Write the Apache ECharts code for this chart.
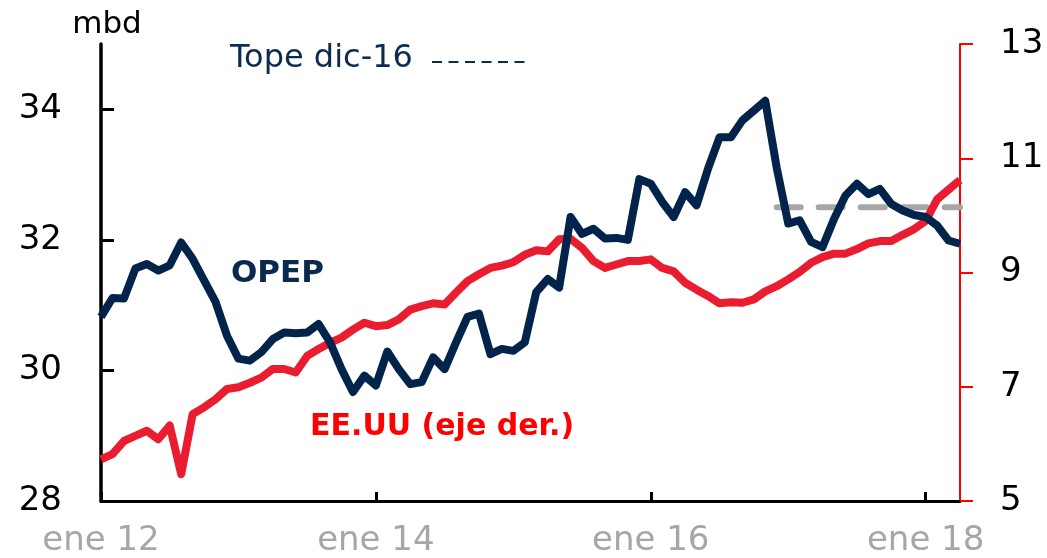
<!DOCTYPE html>
<html>
<head>
<meta charset="utf-8">
<script src="https://cdn.jsdelivr.net/npm/echarts@6/dist/echarts.min.js"></script>
<style>
html,body{margin:0;padding:0;background:#ffffff;}
#chart{width:1047px;height:558px;}
</style>
</head>
<body>
<div id="chart"></div>
<script>
// ---- data ----
const monthNames = ['ene','feb','mar','abr','may','jun','jul','ago','sep','oct','nov','dic'];
const yearLabels = ['12','13','14','15','16','17','18'];
const lastMonthIndex2018 = 3; // abr 18
const categories = [];
yearLabels.forEach(function (y, yi) {
  monthNames.forEach(function (m, mi) {
    if (yi < yearLabels.length - 1 || mi <= lastMonthIndex2018) categories.push(m + ' ' + y);
  });
});

// OPEP production, mbd (left axis)
const opep = [
  30.82,31.11,31.10,31.56,31.63,31.53,31.61,31.96,31.71,31.38,31.05,30.53,
  30.18,30.15,30.28,30.48,30.58,30.57,30.58,30.71,30.43,30.02,29.67,29.92,
  29.77,30.29,30.02,29.79,29.82,30.20,30.02,30.43,30.82,30.87,30.25,30.33,
  30.30,30.43,31.20,31.40,31.27,32.35,32.09,32.17,32.02,32.03,32.00,32.93,
  32.86,32.58,32.35,32.73,32.53,33.09,33.57,33.57,33.83,33.98,34.13,33.10,
  32.25,32.30,31.97,31.89,32.32,32.68,32.86,32.70,32.78,32.55,32.45,32.38,
  32.35,32.22,31.99,31.94
];

// EE.UU production, mbd (right axis)
const eeuu = [
  5.73,5.82,6.05,6.14,6.23,6.08,6.32,5.47,6.52,6.64,6.78,6.96,
  6.99,7.07,7.16,7.31,7.31,7.25,7.54,7.66,7.77,7.86,8.00,8.12,
  8.06,8.08,8.18,8.35,8.41,8.46,8.44,8.65,8.85,8.97,9.08,9.12,
  9.18,9.31,9.39,9.37,9.58,9.59,9.43,9.20,9.08,9.14,9.20,9.20,
  9.23,9.08,9.02,8.82,8.70,8.59,8.46,8.48,8.47,8.53,8.67,8.76,
  8.88,9.01,9.17,9.27,9.33,9.33,9.41,9.51,9.55,9.55,9.66,9.76,
  9.90,10.28,10.45,10.62
];

// Cap agreed in Dec-16
const topeLevel = 32.5;
const topeStart = 'dic 16';
const topeEnd = 'abr 18';

const leftTicks = [28, 30, 32, 34];
const leftMin = 28, leftMax = 35;
const rightMin = 5, rightMax = 13, rightInterval = 2;
const xLabelStep = 23; // label every 24 months (ene of even years)

// ---- chart ----
const NAVY = '#03244a';
const RED = '#e91d2f';
const FONT = '"DejaVu Sans", "Liberation Sans", Arial, sans-serif';

const chart = echarts.init(document.getElementById('chart'), null, {renderer: 'canvas'});
chart.setOption({
  animation: false,
  backgroundColor: '#ffffff',
  grid: {left: 101, right: 87, top: 44, bottom: 56, containLabel: false},
  xAxis: {
    type: 'category',
    data: categories,
    boundaryGap: false,
    axisLine: {lineStyle: {color: '#000000', width: 3}},
    axisTick: {
      inside: true, length: 9, interval: xLabelStep,
      lineStyle: {color: '#000000', width: 3}
    },
    axisLabel: {
      interval: xLabelStep,
      color: '#a6a6a6', fontSize: 34, fontFamily: FONT, margin: 23
    },
    splitLine: {show: false}
  },
  yAxis: [
    {
      type: 'value', position: 'left',
      min: leftMin, max: leftMax, interval: 2,
      axisLine: {show: true, lineStyle: {color: '#000000', width: 3.5}},
      axisTick: {show: true, inside: true, length: 13, customValues: leftTicks,
                 lineStyle: {color: '#000000', width: 3}},
      axisLabel: {customValues: leftTicks, color: '#000000', fontSize: 34,
                  fontFamily: FONT, margin: 39},
      splitLine: {show: false}
    },
    {
      type: 'value', position: 'right',
      min: rightMin, max: rightMax, interval: rightInterval,
      axisLine: {show: true, lineStyle: {color: '#ff0000', width: 2}},
      axisTick: {show: true, inside: false, length: 13,
                 lineStyle: {color: '#ff0000', width: 2}},
      axisLabel: {color: '#000000', fontSize: 34, fontFamily: FONT, margin: 40},
      splitLine: {show: false}
    }
  ],
  series: [
    {
      name: 'Tope dic-16', type: 'line', yAxisIndex: 0, z: 1,
      data: [[topeStart, topeLevel], [topeEnd, topeLevel]],
      symbol: 'none',
      lineStyle: {color: '#a6a6a6', width: 6, type: [24, 18], cap: 'round'}
    },
    {
      name: 'EE.UU (eje der.)', type: 'line', yAxisIndex: 1, z: 2,
      data: eeuu, symbol: 'none',
      lineStyle: {color: RED, width: 8, join: 'round'}
    },
    {
      name: 'OPEP', type: 'line', yAxisIndex: 0, z: 3,
      data: opep, symbol: 'none',
      lineStyle: {color: NAVY, width: 8, join: 'round'}
    }
  ],
  graphic: [
    {type: 'text', x: 107, y: 25,
     style: {text: 'mbd', fill: '#000000', font: '31px ' + FONT, align: 'center', verticalAlign: 'middle'}},
    {type: 'text', x: 230, y: 59,
     style: {text: 'Tope dic-16', fill: '#0d2a4f', font: '32px ' + FONT, align: 'left', verticalAlign: 'middle'}},
    {type: 'line', shape: {x1: 432, y1: 62, x2: 528, y2: 62},
     style: {stroke: '#0d2a4f', lineWidth: 2, lineDash: [10, 6.5]}},
    {type: 'text', x: 231, y: 274,
     style: {text: 'OPEP', fill: '#0a2a4d', font: 'bold 31px ' + FONT, align: 'left', verticalAlign: 'middle'}},
    {type: 'text', x: 310, y: 427,
     style: {text: 'EE.UU (eje der.)', fill: '#ff0000', font: 'bold 30px ' + FONT, align: 'left', verticalAlign: 'middle'}}
  ]
});
</script>
</body>
</html>
